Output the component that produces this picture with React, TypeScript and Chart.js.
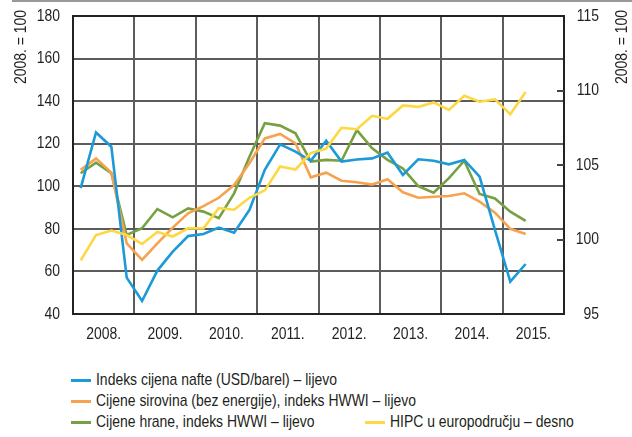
import React, { useEffect, useRef } from 'react';
import { Chart, registerables } from 'chart.js';

Chart.register(...registerables);

const FONT = "'Liberation Sans', Arial, sans-serif";
const TEXT = '#231f20';
const SQUEEZE = 0.82;

const quarters = [
  '2008 Q1', '2008 Q2', '2008 Q3', '2008 Q4',
  '2009 Q1', '2009 Q2', '2009 Q3', '2009 Q4',
  '2010 Q1', '2010 Q2', '2010 Q3', '2010 Q4',
  '2011 Q1', '2011 Q2', '2011 Q3', '2011 Q4',
  '2012 Q1', '2012 Q2', '2012 Q3', '2012 Q4',
  '2013 Q1', '2013 Q2', '2013 Q3', '2013 Q4',
  '2014 Q1', '2014 Q2', '2014 Q3', '2014 Q4',
  '2015 Q1', '2015 Q2',
];
const yearLabels = ['2008.', '2009.', '2010.', '2011.', '2012.', '2013.', '2014.', '2015.'];

const oil = [99.1, 125.3, 118.6, 57.1, 46.1, 60.4, 69.3, 76.6, 77.6, 80.6, 78.2, 88.9, 107.7, 119.7, 116.3, 112, 121.4, 111.6, 112.6, 113.1, 115.8, 105.3, 112.7, 112, 110.3, 112.4, 104.5, 79.5, 55.2, 63.5];
const rawMaterials = [107.7, 113.1, 106.4, 73.2, 65.4, 73.2, 80.6, 87.3, 90.7, 94.6, 100.6, 110.8, 122.5, 124.6, 120.2, 104.2, 106.4, 102.6, 101.9, 100.8, 103.3, 97.2, 94.6, 95.1, 95.4, 96.7, 92.8, 87.6, 80, 77.6];
const food = [106.1, 111.1, 106.1, 77.1, 80.3, 89.3, 85.4, 89.6, 88.1, 85, 96.7, 113.9, 129.6, 128.5, 124.9, 111.6, 112.4, 112, 126.4, 117.8, 112.4, 108.4, 100.1, 97, 103.8, 112, 96.4, 94.3, 88.1, 83.8];
const hicp = [98.6, 100.3, 100.6, 100.3, 99.7, 100.5, 100.2, 100.75, 100.75, 102.1, 102, 102.8, 103.3, 104.9, 104.7, 105.8, 106.1, 107.5, 107.4, 108.3, 108.1, 109, 108.9, 109.2, 108.7, 109.65, 109.25, 109.4, 108.4, 109.9];

const seriesNames = [
  'Indeks cijena nafte (USD/barel) – lijevo',
  'Cijene sirovina (bez energije), indeks HWWI – lijevo',
  'Cijene hrane, indeks HWWI – lijevo',
  'HIPC u europodručju – desno',
];
const colors = ['#1b9ad7', '#f7a24f', '#77a043', '#fdd843'];
const rightTickMarks = [100, 105, 110];
const axisTitle = '2008. = 100';

const toPoints = (arr: number[]) => arr.map((v, i) => ({ x: i + 0.5, y: v }));

function squeezedText(ctx: any, text: string, x: number, y: number, align: string, rotate = 0) {
  ctx.save();
  ctx.translate(x, y);
  if (rotate) ctx.rotate(rotate);
  ctx.scale(SQUEEZE, 1);
  ctx.textAlign = align;
  ctx.textBaseline = 'middle';
  ctx.fillText(text, 0, 0);
  ctx.restore();
}

const framePlugin = {
  id: 'frame',
  beforeDatasetsDraw(chart: any) {
    const { ctx, chartArea } = chart;
    const { left, top, right, bottom } = chartArea;
    const x = chart.scales.x;
    const y = chart.scales.y;
    ctx.save();
    ctx.fillStyle = '#5c5c5c';
    for (const t of y.ticks) {
      const py = Math.round(y.getPixelForValue(t.value));
      ctx.fillRect(left, py - 1, right - left, 2);
    }
    for (let i = 1; i < yearLabels.length; i++) {
      const px = Math.round(x.getPixelForValue(i * 4));
      ctx.fillRect(px - 1, top, 2, bottom - top);
    }
    ctx.restore();
  },
  afterDraw(chart: any) {
    const { ctx, chartArea } = chart;
    const { left, top, right, bottom } = chartArea;
    ctx.save();
    ctx.fillStyle = '#222222';
    const l = Math.round(left), t0 = Math.round(top), r = Math.round(right), b = Math.round(bottom);
    ctx.fillRect(l - 1, t0 - 1, r - l + 2, 2);
    ctx.fillRect(l - 1, b - 1, r - l + 2, 2);
    ctx.fillRect(l - 1, t0 - 1, 2, b - t0 + 2);
    ctx.fillRect(r - 1, t0 - 1, 2, b - t0 + 2);
    const y1 = chart.scales.y1;
    const y = chart.scales.y;
    const x = chart.scales.x;
    ctx.fillStyle = '#444444';
    for (const v of rightTickMarks) {
      const py = Math.round(y1.getPixelForValue(v));
      ctx.fillRect(r - 7, py - 1, 7, 2);
    }
    ctx.fillStyle = TEXT;
    ctx.font = `17px ${FONT}`;
    for (const tk of y.ticks) {
      squeezedText(ctx, String(tk.value), left - 13, y.getPixelForValue(tk.value), 'right');
    }
    for (const tk of y1.ticks) {
      squeezedText(ctx, String(tk.value), 599, y1.getPixelForValue(tk.value), 'right');
    }
    yearLabels.forEach((lab, i) => {
      squeezedText(ctx, lab, x.getPixelForValue(i * 4 + 2), bottom + 20, 'center');
    });
    squeezedText(ctx, axisTitle, 21, 47, 'center', -Math.PI / 2);
    squeezedText(ctx, axisTitle, 622, 47, 'center', -Math.PI / 2);
    ctx.restore();
  },
};

export default function App() {
  const ref = useRef<HTMLCanvasElement | null>(null);

  useEffect(() => {
    document.body.style.margin = '0';
    const canvas = ref.current;
    if (!canvas) return;
    const series = [oil, rawMaterials, food, hicp];
    const chart = new Chart(canvas, {
      type: 'line',
      data: {
        labels: quarters,
        datasets: series.map((s, i) => ({
          label: seriesNames[i],
          data: toPoints(s),
          borderColor: colors[i],
          backgroundColor: colors[i],
          borderWidth: 2.6,
          pointRadius: 0,
          tension: 0,
          yAxisID: i === 3 ? 'y1' : 'y',
          order: i === 3 ? 0 : 1,
        })),
      },
      options: {
        animation: false,
        responsive: false,
        maintainAspectRatio: false,
        layout: { padding: { top: 16, left: 0, right: 0, bottom: 0 } },
        plugins: {
          legend: { display: false },
          tooltip: { enabled: false },
        },
        scales: {
          x: {
            type: 'linear',
            min: 0,
            max: 32,
            afterFit: (scale: any) => { scale.height = 36; },
            border: { display: false },
            grid: { display: false },
            ticks: { stepSize: 4, autoSkip: false, maxRotation: 0, display: false },
          },
          y: {
            position: 'left',
            min: 40,
            max: 180,
            afterFit: (scale: any) => { scale.width = 73; },
            border: { display: false },
            grid: { display: false },
            ticks: { stepSize: 20, display: false },
          },
          y1: {
            position: 'right',
            min: 95,
            max: 115,
            afterFit: (scale: any) => { scale.width = 68; },
            border: { display: false },
            grid: { display: false },
            ticks: { stepSize: 5, display: false },
          },
        },
      },
      plugins: [framePlugin],
    } as any);
    return () => chart.destroy();
  }, []);

  const legendRows = [
    { i: 0, left: 71, top: 370 },
    { i: 1, left: 71, top: 391 },
    { i: 2, left: 71, top: 412 },
    { i: 3, left: 365, top: 412 },
  ];

  return (
    <div style={{ position: 'relative', width: 632, height: 437, background: '#fff', overflow: 'hidden' }}>
      <div style={{ position: 'absolute', top: 0, left: 12, right: 0, height: 2, background: '#999999' }} />
      <canvas ref={ref} width={632} height={350} style={{ position: 'absolute', top: 0, left: 0, width: 632, height: 350 }} />
      {legendRows.map((r) => (
        <div
          key={r.i}
          style={{
            position: 'absolute',
            left: r.left,
            top: r.top,
            height: 20,
            display: 'flex',
            alignItems: 'center',
            fontFamily: FONT,
            fontSize: 17,
            color: TEXT,
            whiteSpace: 'nowrap',
          }}
        >
          <span style={{ display: 'inline-block', width: 20, height: 3, background: colors[r.i], marginRight: 5 }} />
          <span style={{ display: 'inline-block', transform: `scaleX(${SQUEEZE})`, transformOrigin: 'left center' }}>
            {seriesNames[r.i]}
          </span>
        </div>
      ))}
    </div>
  );
}
